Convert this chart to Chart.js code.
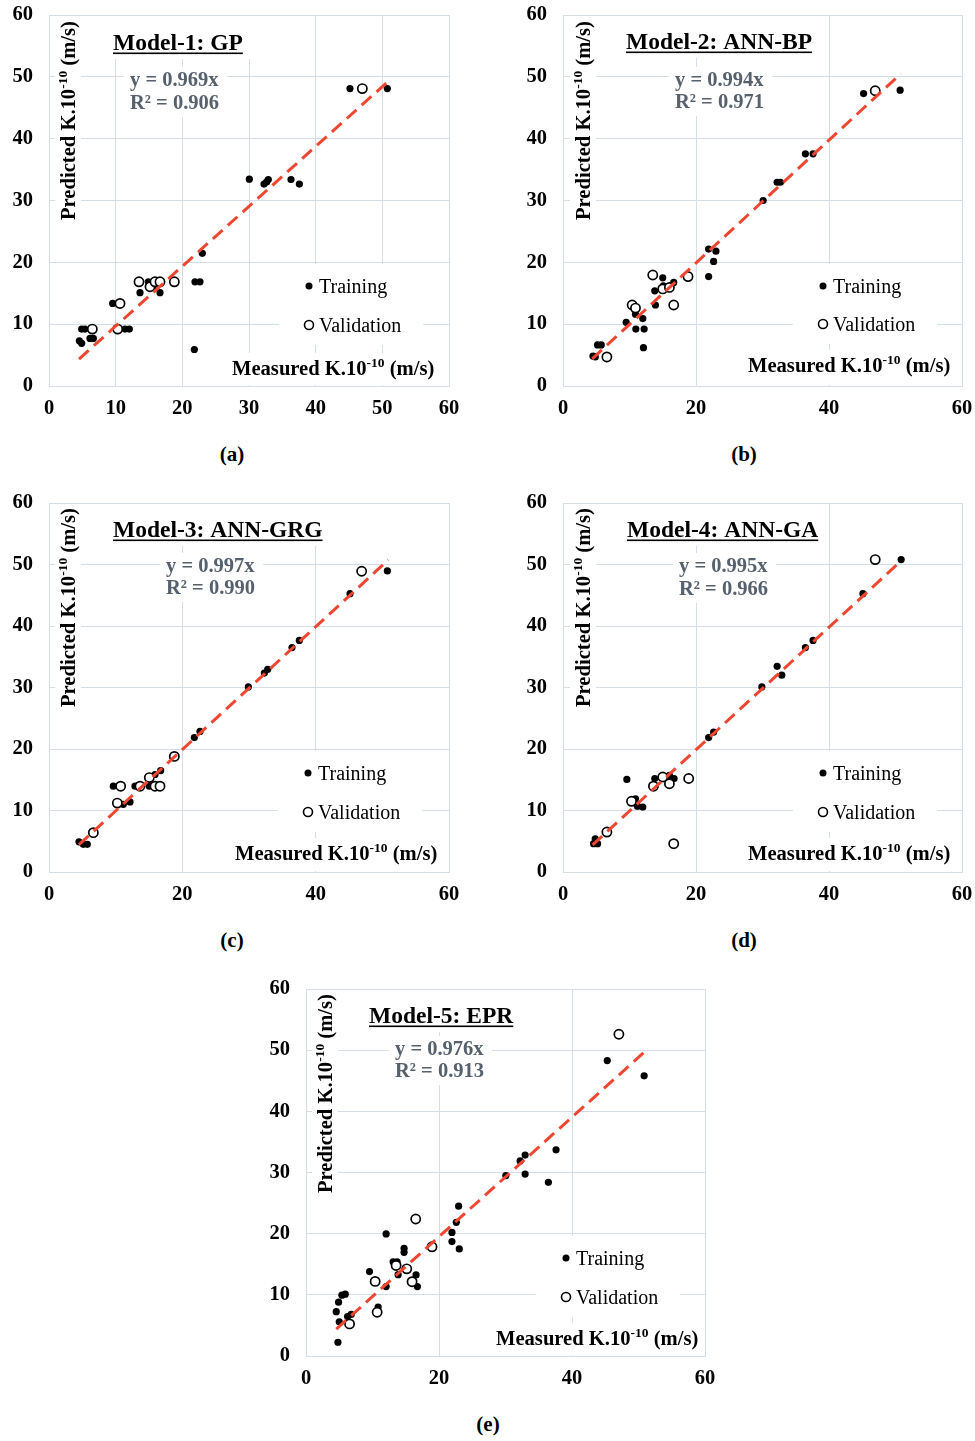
<!DOCTYPE html>
<html><head><meta charset="utf-8">
<script src="https://cdn.jsdelivr.net/npm/chart.js@4.4.1/dist/chart.umd.min.js"></script>
<style>
html,body{margin:0;padding:0;background:#fff;width:975px;height:1441px;overflow:hidden;}
.panel{position:absolute;}
.panel canvas{display:block;}
.lbl{position:absolute;font:bold 21px 'Liberation Serif','Times New Roman',serif;color:#000;transform:translate(-50%,-50%);white-space:nowrap;}
</style></head><body>
<div id="pa" class="panel"><canvas id="ca"></canvas></div>
<div id="pb" class="panel"><canvas id="cb"></canvas></div>
<div id="pc" class="panel"><canvas id="cc"></canvas></div>
<div id="pd" class="panel"><canvas id="cd"></canvas></div>
<div id="pe" class="panel"><canvas id="ce"></canvas></div>
<div class="lbl" style="left:232px;top:454px">(a)</div>
<div class="lbl" style="left:744px;top:454px">(b)</div>
<div class="lbl" style="left:232px;top:940px">(c)</div>
<div class="lbl" style="left:744px;top:940px">(d)</div>
<div class="lbl" style="left:488px;top:1424px">(e)</div>
<script>
// ---------- data ----------
const yTicks = [0, 10, 20, 30, 40, 50, 60];
const xTicksFine = [0, 10, 20, 30, 40, 50, 60];
const xTicksCoarse = [0, 20, 40, 60];
const seriesNames = ['Training', 'Validation'];
const xAxisWord = 'Measured';
const yAxisWord = 'Predicted';

const m1Title = 'Model-1: GP';
const m1Eq = ['y = 0.969x', 'R² = 0.906'];
const m1TrainX = [4.55, 4.9, 4.9, 5.4, 6.15, 6.65, 9.55, 11.4, 12.05, 13.65, 14.9, 15.6, 16.65, 21.9, 22.65, 23.0, 21.8, 30.05, 32.25, 32.65, 32.9, 36.3, 37.55, 45.15, 50.75];
const m1TrainY = [7.3, 6.9, 9.2, 9.2, 7.7, 7.7, 13.35, 9.2, 9.2, 15.1, 16.85, 15.9, 15.1, 16.85, 16.85, 21.45, 5.9, 33.45, 32.65, 33.0, 33.4, 33.4, 32.65, 48.1, 48.1];
const m1ValX = [6.5, 10.3, 10.65, 13.5, 15.15, 15.9, 16.65, 18.8, 47.0];
const m1ValY = [9.2, 9.2, 13.35, 16.85, 16.05, 16.85, 16.85, 16.85, 48.1];
const m1TrendX = [4.5, 50.9];
const m1TrendY = [4.35, 49.3];

const m2Title = 'Model-2: ANN-BP';
const m2Eq = ['y = 0.994x', 'R² = 0.971'];
const m2TrainX = [4.5, 4.85, 5.2, 5.75, 9.5, 10.9, 10.95, 12.0, 12.2, 12.1, 13.9, 13.8, 15.0, 15.1, 16.65, 21.9, 21.9, 22.65, 23.0, 30.1, 32.2, 32.7, 36.45, 37.6, 45.2, 50.7];
const m2TrainY = [4.85, 4.7, 6.65, 6.65, 10.3, 11.6, 9.2, 10.9, 9.2, 6.2, 13.1, 15.4, 17.5, 16.2, 16.75, 22.15, 17.7, 20.15, 21.8, 30.0, 32.95, 32.95, 37.55, 37.55, 47.3, 47.85];
const m2ValX = [6.6, 10.4, 10.9, 13.5, 15.0, 16.0, 16.65, 18.8, 46.95];
const m2ValY = [4.7, 13.1, 12.6, 17.95, 15.7, 15.95, 13.1, 17.7, 47.75];
const m2TrendX = [4.4, 50.8];
const m2TrendY = [4.4, 50.5];

const m3Title = 'Model-3: ANN-GRG';
const m3Eq = ['y = 0.997x', 'R² = 0.990'];
const m3TrainX = [4.5, 5.15, 5.75, 9.65, 11.15, 12.15, 12.9, 15.05, 15.9, 16.75, 21.8, 22.65, 29.9, 32.3, 32.8, 36.45, 37.55, 45.15, 50.75];
const m3TrainY = [4.9, 4.5, 4.5, 13.95, 11.0, 11.4, 13.95, 13.95, 15.85, 16.5, 21.85, 22.85, 30.1, 32.35, 32.95, 36.5, 37.65, 45.25, 48.95];
const m3ValX = [6.65, 10.25, 10.75, 13.65, 15.05, 15.9, 16.65, 18.8, 46.9];
const m3ValY = [6.4, 11.2, 13.95, 13.95, 15.35, 13.95, 13.95, 18.8, 48.9];
const m3TrendX = [4.5, 50.9];
const m3TrendY = [4.45, 50.75];

const m4Title = 'Model-4: ANN-GA';
const m4Eq = ['y = 0.995x', 'R² = 0.966'];
const m4TrainX = [4.6, 4.85, 5.2, 9.6, 10.9, 11.2, 12.0, 13.8, 16.0, 16.7, 21.9, 22.65, 29.9, 32.2, 32.9, 36.45, 37.6, 45.1, 50.85];
const m4TrainY = [4.6, 5.4, 4.6, 15.05, 11.9, 10.7, 10.55, 15.2, 15.7, 15.2, 21.85, 22.75, 30.1, 33.45, 32.0, 36.5, 37.65, 45.25, 50.8];
const m4ValX = [6.6, 10.3, 13.6, 15.0, 16.0, 18.9, 16.65, 46.95];
const m4ValY = [6.5, 11.5, 13.95, 15.45, 14.35, 15.2, 4.6, 50.8];
const m4TrendX = [4.45, 50.8];
const m4TrendY = [4.4, 50.55];

const m5Title = 'Model-5: EPR';
const m5Eq = ['y = 0.976x', 'R² = 0.913'];
const m5TrainX = [4.8, 4.55, 4.9, 5.0, 5.4, 5.9, 6.25, 6.8, 9.55, 10.85, 12.05, 12.05, 13.1, 13.7, 13.85, 14.75, 14.75, 16.55, 16.75, 21.95, 21.95, 22.6, 22.95, 23.05, 30.05, 32.2, 32.95, 32.95, 36.45, 37.6, 45.3, 50.85];
const m5TrainY = [2.25, 7.25, 8.8, 5.6, 9.95, 10.1, 6.45, 6.8, 13.8, 8.0, 11.35, 19.95, 15.4, 15.4, 13.3, 17.6, 16.95, 13.25, 11.35, 20.2, 18.7, 21.85, 24.5, 17.5, 29.5, 31.9, 32.85, 29.75, 28.4, 33.7, 48.3, 45.8];
const m5ValX = [6.55, 10.4, 10.7, 13.55, 15.15, 15.95, 16.5, 18.95, 47.05];
const m5ValY = [5.25, 12.2, 7.15, 14.8, 14.25, 12.15, 22.4, 17.85, 52.6];
const m5TrendX = [4.55, 51.0];
const m5TrendY = [4.4, 49.8];

// ---------- styling / layout ----------
const FONT = "'Liberation Serif','Times New Roman',serif";
const GRID = '#d5dde7';
const EQ_COLOR = '#56616d';
const TREND_COLOR = '#ee4630';
function fnt(size, bold) { return (bold ? 'bold ' : '') + size + 'px ' + FONT; }
function pts(xs, ys) { return xs.map((x, i) => ({ x: x, y: ys[i] })); }

const panels = [
  { canvas: 'ca', box: 'pa', L: 49, T: 15, R: 449, B: 386, padR: 26, xt: xTicksFine,
    title: m1Title, eq: m1Eq, tx: m1TrainX, ty: m1TrainY, vx: m1ValX, vy: m1ValY, rx: m1TrendX, ry: m1TrendY,
    pos: { title: [64, 35], eq: [81, 71, 94], leg: [260, 271, 310], xtl: [183, 360], ytl: [26, 205] } },
  { canvas: 'cb', box: 'pb', L: 563, T: 15, R: 962, B: 386, padR: 13, xt: xTicksCoarse,
    title: m2Title, eq: m2Eq, tx: m2TrainX, ty: m2TrainY, vx: m2ValX, vy: m2ValY, rx: m2TrendX, ry: m2TrendY,
    pos: { title: [63, 34], eq: [112, 71, 93], leg: [260, 271, 309], xtl: [185, 357], ytl: [27, 205] } },
  { canvas: 'cc', box: 'pc', L: 49, T: 503, R: 449, B: 872, padR: 26, xt: xTicksCoarse,
    title: m3Title, eq: m3Eq, tx: m3TrainX, ty: m3TrainY, vx: m3ValX, vy: m3ValY, rx: m3TrendX, ry: m3TrendY,
    pos: { title: [64, 34], eq: [117, 69, 91], leg: [259, 270, 309], xtl: [186, 357], ytl: [26, 204] } },
  { canvas: 'cd', box: 'pd', L: 563, T: 503, R: 962, B: 872, padR: 13, xt: xTicksCoarse,
    title: m4Title, eq: m4Eq, tx: m4TrainX, ty: m4TrainY, vx: m4ValX, vy: m4ValY, rx: m4TrendX, ry: m4TrendY,
    pos: { title: [64, 34], eq: [116, 69, 92], leg: [260, 270, 309], xtl: [185, 357], ytl: [27, 204] } },
  { canvas: 'ce', box: 'pe', L: 306, T: 989, R: 705, B: 1356, padR: 26, xt: xTicksCoarse,
    title: m5Title, eq: m5Eq, tx: m5TrainX, ty: m5TrainY, vx: m5ValX, vy: m5ValY, rx: m5TrendX, ry: m5TrendY,
    pos: { title: [63, 34], eq: [89, 66, 88], leg: [260, 269, 308], xtl: [190, 356], ytl: [26, 204] } }
];

function axisParts(word) {
  return [{ t: word + ' K.10', font: fnt(20.6, true) }, { t: '-10', font: fnt(13.5, true), rise: 8 }, { t: ' (m/s)', font: fnt(20.6, true) }];
}
function richWidth(ctx, parts) { let w = 0; for (const p of parts) { ctx.font = p.font; w += ctx.measureText(p.t).width; } return w; }
function richDraw(ctx, parts, x, y) { let cx = x; for (const p of parts) { ctx.font = p.font; ctx.fillText(p.t, cx, y - (p.rise || 0)); cx += ctx.measureText(p.t).width; } }

function makeAnnot(p) {
  return {
    id: 'annot_' + p.canvas,
    beforeDatasetsDraw(chart) {
      const ctx = chart.ctx, a = chart.chartArea, L = a.left, T = a.top;
      const P = p.pos;
      ctx.save();
      ctx.textAlign = 'left'; ctx.textBaseline = 'alphabetic';
      const white = (x0, y0, x1, y1) => {
        x0 = Math.max(x0, a.left + 1); y0 = Math.max(y0, a.top + 1);
        x1 = Math.min(x1, a.right - 1); y1 = Math.min(y1, a.bottom - 1);
        ctx.fillStyle = '#fff'; ctx.fillRect(x0, y0, x1 - x0, y1 - y0);
      };
      ctx.font = fnt(23.5, true); const tw = ctx.measureText(p.title).width;
      const tX = L + P.title[0], tY = T + P.title[1];
      ctx.font = fnt(20.5, true); const ew = Math.max(ctx.measureText(p.eq[0]).width, ctx.measureText(p.eq[1]).width);
      const eX = L + P.eq[0], e1 = T + P.eq[1], e2 = T + P.eq[2];
      ctx.font = fnt(20, false); const lw = ctx.measureText(seriesNames[1]).width;
      const gX = L + P.leg[0], g1 = T + P.leg[1], g2 = T + P.leg[2];
      const xParts = axisParts(xAxisWord), yParts = axisParts(yAxisWord);
      const xw = richWidth(ctx, xParts), yw = richWidth(ctx, yParts);
      const xX = L + P.xtl[0], xB = T + P.xtl[1];
      const yX = L + P.ytl[0], yB = T + P.ytl[1];
      white(tX - 8, T, tX + tw + 8, tY + 9);
      white(eX - 6, e1 - 19, eX + ew + 8, e2 + 8);
      white(gX - 30, g1 - 22, gX + 10 + lw + 22, g2 + 20);
      white(xX - 8, xB - 22, xX + xw + 12, a.bottom);
      white(yX - 20, yB - yw - 6, yX + 6, yB + 8);
      ctx.fillStyle = '#000'; ctx.font = fnt(23.5, true);
      ctx.fillText(p.title, tX, tY);
      ctx.fillRect(tX, tY + 2.5, tw, 1.6);
      ctx.fillStyle = EQ_COLOR; ctx.font = fnt(20.5, true);
      ctx.fillText(p.eq[0], eX, e1);
      ctx.fillText(p.eq[1], eX, e2);
      ctx.fillStyle = '#000';
      ctx.beginPath(); ctx.arc(gX, g1, 3.5, 0, Math.PI * 2); ctx.fill();
      ctx.beginPath(); ctx.arc(gX, g2, 4.5, 0, Math.PI * 2); ctx.lineWidth = 1.6; ctx.strokeStyle = '#000'; ctx.stroke();
      ctx.font = fnt(20, false);
      ctx.fillText(seriesNames[0], gX + 10, g1 + 7);
      ctx.fillText(seriesNames[1], gX + 10, g2 + 7);
      richDraw(ctx, xParts, xX, xB);
      ctx.translate(yX, yB); ctx.rotate(-Math.PI / 2);
      richDraw(ctx, yParts, 0, 0);
      ctx.restore();
    }
  };
}

for (const p of panels) {
  const W = (p.R - p.L) + 49 + p.padR;
  const H = (p.B - p.T) + 15 + 40;
  const box = document.getElementById(p.box);
  box.style.left = (p.L - 49) + 'px'; box.style.top = (p.T - 15) + 'px';
  box.style.width = W + 'px'; box.style.height = H + 'px';
  const cv = document.getElementById(p.canvas);
  cv.width = W; cv.height = H; cv.style.width = W + 'px'; cv.style.height = H + 'px';
  const tickFont = { family: FONT, size: 20.5, weight: 'bold' };
  new Chart(cv.getContext('2d'), {
    type: 'scatter',
    data: {
      datasets: [
        { type: 'line', label: 'trend', data: pts(p.rx, p.ry), borderColor: TREND_COLOR, borderWidth: 3, borderDash: [13, 7], pointRadius: 0, fill: false, showLine: true, order: 0 },
        { label: seriesNames[1], data: pts(p.vx, p.vy), pointRadius: 4.6, pointBorderWidth: 1.7, pointBorderColor: '#000', pointBackgroundColor: '#fff', borderColor: '#000', backgroundColor: '#fff', order: 1 },
        { label: seriesNames[0], data: pts(p.tx, p.ty), pointRadius: 3.6, pointBorderWidth: 0, pointBackgroundColor: '#000', backgroundColor: '#000', borderColor: '#000', order: 2 }
      ]
    },
    options: {
      responsive: false, animation: false, devicePixelRatio: 1,
      layout: { padding: { top: 15, right: p.padR, left: 0, bottom: 0 } },
      plugins: { legend: { display: false }, tooltip: { enabled: false }, title: { display: false } },
      scales: {
        x: {
          type: 'linear', min: 0, max: 60,
          afterBuildTicks: s => { s.ticks = p.xt.map(v => ({ value: v })); },
          afterFit: s => { s.height = 40; s.paddingLeft = 0; s.paddingRight = 0; },
          grid: { color: GRID, lineWidth: 1, drawTicks: false },
          border: { display: true, color: GRID, width: 1 },
          ticks: { font: tickFont, color: '#000', padding: 10, maxRotation: 0, autoSkip: false }
        },
        y: {
          type: 'linear', min: 0, max: 60,
          afterBuildTicks: s => { s.ticks = yTicks.map(v => ({ value: v })); },
          afterFit: s => { s.width = 49; s.paddingTop = 0; s.paddingBottom = 0; },
          grid: { color: GRID, lineWidth: 1, drawTicks: false },
          border: { display: true, color: GRID, width: 1 },
          ticks: { font: tickFont, color: '#000', padding: 16, autoSkip: false }
        }
      }
    },
    plugins: [makeAnnot(p)]
  });
}
</script>
</body></html>
